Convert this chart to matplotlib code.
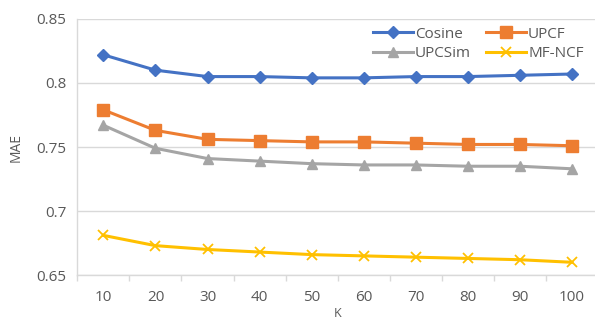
import matplotlib.pyplot as plt
import numpy as np

k_labels = ["10", "20", "30", "40", "50", "60", "70", "80", "90", "100"]
cosine = [0.822, 0.810, 0.805, 0.805, 0.804, 0.804, 0.805, 0.805, 0.806, 0.807]
upcf = [0.779, 0.763, 0.756, 0.755, 0.754, 0.754, 0.753, 0.752, 0.752, 0.751]
upcsim = [0.767, 0.749, 0.741, 0.739, 0.737, 0.736, 0.736, 0.735, 0.735, 0.733]
mf_ncf = [0.681, 0.673, 0.670, 0.668, 0.666, 0.665, 0.664, 0.663, 0.662, 0.660]

plt.rcParams["font.family"] = ["Open Sans", "DejaVu Sans"]
txt = "#595959"
grid = "#D9D9D9"

fig = plt.figure(figsize=(5.95, 3.21), dpi=100)
ax = fig.add_axes([0.130, 0.143, 0.875, 0.798])

x = np.arange(len(k_labels))
l1, = ax.plot(x, cosine, color="#4472C4", lw=2.2, marker="D", ms=6, label="Cosine")
l2, = ax.plot(x, upcf, color="#ED7D31", lw=2.2, marker="s", ms=8, label="UPCF")
l3, = ax.plot(x, upcsim, color="#A5A5A5", lw=2.2, marker="^", ms=7, label="UPCSim")
l4, = ax.plot(x, mf_ncf, color="#FFC000", lw=2.2, marker="x", ms=7, mew=1.3, label="MF-NCF")

ax.set_xlim(-0.5, len(k_labels) - 0.5)
ax.set_ylim(0.65, 0.85)
ax.set_yticks([0.65, 0.7, 0.75, 0.8, 0.85])
ax.set_yticklabels(["0.65", "0.7", "0.75", "0.8", "0.85"])
ax.set_xticks(x)
ax.set_xticklabels(k_labels)
ax.set_xticks(np.arange(-0.5, len(k_labels)), minor=True)
ax.tick_params(axis="x", which="major", length=0, pad=11, labelsize=11, labelcolor=txt)
ax.tick_params(axis="x", which="minor", length=4, color=grid, width=1)
ax.tick_params(axis="y", length=0, pad=8, labelsize=11, labelcolor=txt)

ax.grid(axis="y", color=grid, lw=1)
ax.set_axisbelow(True)
for s in ["top", "right"]:
    ax.spines[s].set_visible(False)
for s in ["left", "bottom"]:
    ax.spines[s].set_color(grid)
    ax.spines[s].set_linewidth(1)

ax.set_ylabel("MAE", color=txt, fontsize=10, labelpad=9)
ax.set_xlabel("K", color=txt, fontsize=9, labelpad=1)

ax.legend([l1, l3, l2, l4], ["Cosine", "UPCSim", "UPCF", "MF-NCF"],
          ncol=2, loc="upper right", bbox_to_anchor=(0.99, 1.005), frameon=False,
          fontsize=11, labelcolor=txt, handlelength=2.6, columnspacing=1.0,
          handletextpad=0.15, borderaxespad=0.2, labelspacing=0.3)

plt.savefig("out.png", dpi=100)
